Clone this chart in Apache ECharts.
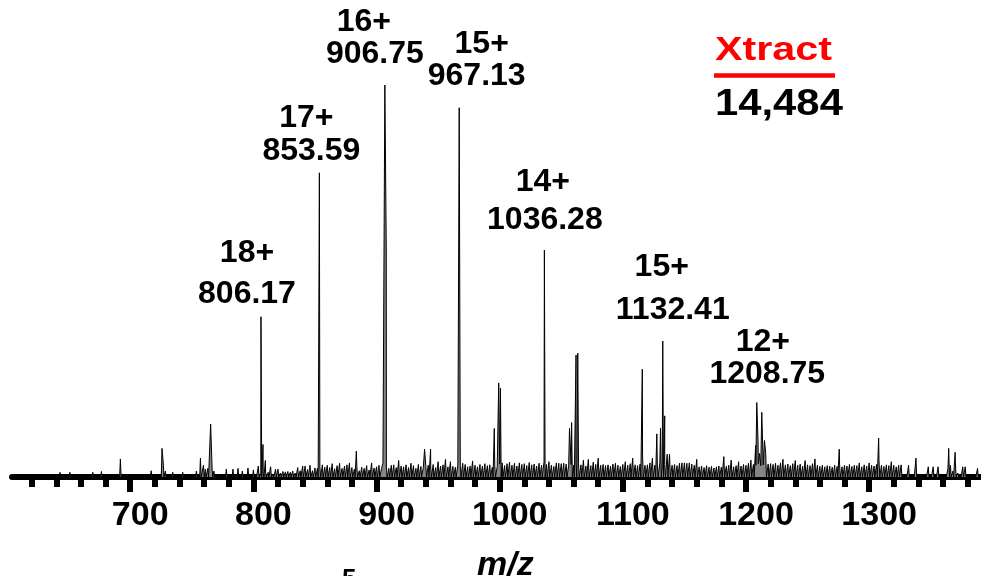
<!DOCTYPE html>
<html>
<head>
<meta charset="utf-8">
<script src="https://cdn.jsdelivr.net/npm/echarts@6/dist/echarts.min.js"></script>
<style>
  html, body { margin: 0; padding: 0; background: #fff; }
  #chart { width: 981px; height: 576px; }
</style>
</head>
<body>
<div id="chart"></div>
<script>
// Deconvoluted charge-state series: labelled m/z peaks (relative intensity, %)
const peakMz = [806.17, 853.59, 906.75, 967.13, 1036.28, 1132.41, 1208.75];
const peakIntensity = [40.9, 77.6, 100, 94.2, 57.9, 34.7, 19.0];
const peakCharge = ['18+', '17+', '16+', '15+', '14+', '15+', '12+'];

// Unlabelled peaks (isotopes, adducts, minor species)
const minorMz = [692.0, 725.8, 726.8, 757.0, 765.3, 807.8, 809.7, 883.6, 905.2, 907.9,
  939.0, 943.9, 995.6, 999.2, 1000.6, 1056.7, 1058.4, 1062.0, 1063.4, 1115.8,
  1127.6, 1130.6, 1134.0, 1137.9, 1207.8, 1209.8, 1211.0, 1212.8, 1215.0,
  1275.7, 1307.7, 1364.6, 1369.8];
const minorIntensity = [4.6, 7.3, 3.6, 4.8, 13.5, 8.3, 4.2, 6.6, 3.5, 58.2,
  7.1, 7.1, 12.4, 24.0, 22.7, 12.4, 13.9, 31.1, 31.6, 27.5,
  11.0, 12.5, 15.6, 5.8, 8.0, 9.0, 6.0, 16.5, 9.3,
  7.1, 9.9, 7.3, 6.3];

// Sparse low-mass baseline signal
const lowNoiseMz = [643, 651, 669.6, 676.6, 717, 728.5, 734.5, 742.6, 753.7, 759.5,
  761, 763, 766.5, 768, 778, 783.4, 787.5, 791, 795.6];
const lowNoiseIntensity = [1.2, 1.2, 1.2, 1.4, 1.6, 1.5, 1.2, 1.2, 1.5, 3.0,
  2.0, 2.2, 2.0, 1.5, 2.0, 2.0, 2.2, 1.5, 2.3];

// Baseline signal from m/z 800 upward, one reading every 2 m/z
const noiseStartMz = 800;
const noiseStepMz = 2;
const noiseIntensity = [
  1.8, 0.5, 2.8, 0.7, 1.0, 0.8, 1.2, 2.6, 0.6, 2.0,   // 800
  2.0, 1.0, 1.4, 1.3, 1.4, 1.2, 1.5, 1.0, 2.4, 1.6,   // 820
  2.8, 2.8, 1.9, 3.0, 1.6, 2.3, 2.2, 2.6, 3.1, 2.5,   // 840
  3.0, 2.4, 3.4, 2.1, 2.9, 3.5, 2.2, 2.8, 3.1, 3.6,   // 860
  2.4, 2.0, 2.7, 1.6, 2.5, 2.2, 2.9, 1.8, 3.6, 2.3,   // 880
  2.6, 3.0, 2.1, 3.3, 2.5, 2.2, 3.0, 3.1, 2.4, 4.2,   // 900
  2.8, 2.6, 3.1, 2.4, 3.5, 2.9, 2.2, 3.2, 2.7, 2.5,   // 920
  2.9, 3.0, 2.6, 3.2, 2.4, 3.9, 2.8, 3.1, 4.5, 2.6,   // 940
  3.9, 2.7, 2.5, 3.0, 2.9, 3.5, 3.2, 2.6, 2.8, 4.1,   // 960
  3.0, 2.6, 3.2, 2.8, 3.4, 2.9, 3.1, 2.5, 3.0, 2.7,   // 980
  3.3, 3.6, 2.9, 3.4, 3.8, 3.0, 3.5, 2.8, 3.6, 3.2,   // 1000
  3.4, 2.9, 3.7, 3.1, 3.3, 2.8, 3.5, 3.0, 3.9, 3.2,   // 1020
  3.9, 3.0, 2.7, 3.6, 3.5, 3.4, 3.5, 3.3, 2.9, 3.2,   // 1040
  3.0, 3.5, 3.4, 3.1, 4.3, 2.8, 4.5, 2.9, 3.8, 3.2,   // 1060
  4.8, 3.0, 3.2, 2.9, 3.1, 2.8, 3.3, 3.5, 3.0, 2.7,   // 1080
  3.2, 3.9, 3.0, 3.4, 4.8, 3.1, 2.9, 3.3, 5.6, 3.0,   // 1100
  3.1, 3.6, 4.8, 3.0, 3.3, 3.5, 2.8, 3.2, 5.8, 5.6,   // 1120
  3.0, 3.2, 2.9, 3.5, 3.6, 3.6, 3.5, 3.6, 3.3, 3.0,   // 1140
  4.5, 2.6, 2.8, 2.4, 2.9, 2.5, 2.7, 2.3, 2.6, 2.8,   // 1160
  2.5, 5.2, 2.7, 3.0, 4.3, 2.6, 2.9, 3.9, 2.8, 3.2,   // 1180
  3.0, 3.5, 4.3, 3.2, 3.0, 3.4, 2.9, 3.1, 6.0, 3.3,   // 1200
  3.4, 3.2, 3.5, 3.0, 3.6, 4.5, 3.1, 3.3, 2.9, 3.4,   // 1220
  4.2, 3.0, 3.3, 2.8, 4.2, 3.1, 2.9, 3.4, 4.6, 3.0,   // 1240
  2.7, 3.0, 2.6, 2.9, 2.8, 2.5, 3.0, 2.7, 3.1, 2.6,   // 1260
  3.0, 2.8, 3.2, 2.7, 3.0, 2.9, 3.6, 2.6, 3.1, 2.8,   // 1280
  3.6, 3.0, 2.8, 3.2, 4.2, 3.0, 2.7, 3.1, 2.9, 3.9,   // 1300
  3.0, 2.6, 3.0, 3.1, 0.4, 0.3, 3.0, 0.5, 0.3, 4.8,   // 1320
  0.0, 0.0, 0.0, 0.0, 2.6, 0.0, 2.6, 0.0, 2.6, 0.0,   // 1340
  0.5, 0.0, 2.2, 3.0, 1.5, 3.9, 1.0, 0.5, 2.6, 2.6,   // 1360
  0.0, 0.0, 0.0, 0.0, 2.2                             // 1380
];

const tickLabels = [700, 800, 900, 1000, 1100, 1200, 1300];

// ---- layout / style ----
const MZ_MIN = 604, MZ_MAX = 1390;
const minorTickValues = [];
for (let v = 620; v <= 1380; v += 20) minorTickValues.push(v);

// label offsets in px from each peak apex: [dx, dy] for charge line and m/z line
const chargeOffsets = [[-14, -64], [-13, -55], [-21, -62.5], [22.5, -64], [-1.5, -67.5], [-1, -73.5], [6, -60]];
const mzOffsets = [[-14, -23], [-8, -22], [-10, -31], [17.5, -32], [0.5, -30], [10, -31], [10.5, -28.5]];

const FONT = '"Liberation Sans", Arial, Helvetica, sans-serif';

// gather every stick into one profile trace
const sticks = [];
peakMz.forEach((m, i) => sticks.push([m, peakIntensity[i]]));
minorMz.forEach((m, i) => sticks.push([m, minorIntensity[i]]));
lowNoiseMz.forEach((m, i) => sticks.push([m, lowNoiseIntensity[i]]));
noiseIntensity.forEach((h, i) => sticks.push([noiseStartMz + i * noiseStepMz, h]));
sticks.sort((a, b) => a[0] - b[0]);

const profile = [[MZ_MIN, 0]];
const HALF = 0.6, JOIN = 1.3;
sticks.forEach((p, i) => {
  const prev = sticks[i - 1];
  if (!prev) {
    profile.push([p[0] - HALF, 0]);
  } else if (p[0] - prev[0] > JOIN) {
    profile.push([prev[0] + HALF, 0]);
    profile.push([p[0] - HALF, 0]);
  }
  profile.push(p);
});
profile.push([sticks[sticks.length - 1][0] + HALF, 0]);
profile.push([MZ_MAX, 0]);

const labelData = (offsets) => peakMz.map((m, i) => ({
  value: [m, peakIntensity[i]],
  label: { offset: offsets[i] }
}));

const chart = echarts.init(document.getElementById('chart'), null, { renderer: 'canvas' });

const labelStyle = {
  show: true,
  position: 'inside',
  color: '#000',
  opacity: 1,
  fontFamily: FONT,
  fontWeight: 'bold',
  fontSize: 32,
  align: 'center',
  verticalAlign: 'middle'
};

chart.setOption({
  animation: false,
  backgroundColor: '#fff',
  grid: { left: 12, right: 1, top: 85, bottom: 99, containLabel: false },
  xAxis: [
    {
      type: 'value', min: MZ_MIN, max: MZ_MAX, position: 'bottom',
      axisLine: { show: true, onZero: false, lineStyle: { color: '#000', width: 6 } },
      axisTick: { show: true, customValues: minorTickValues, length: 10, lineStyle: { color: '#000', width: 6 } },
      axisLabel: { show: false },
      splitLine: { show: false }
    },
    {
      type: 'value', min: MZ_MIN, max: MZ_MAX, position: 'bottom', offset: 0,
      axisLine: { show: false },
      axisTick: { show: true, customValues: tickLabels, length: 15, lineStyle: { color: '#000', width: 6 } },
      axisLabel: {
        show: true, customValues: tickLabels, margin: 22,
        formatter: (v) => String(v),
        color: '#000', fontFamily: FONT, fontWeight: 'bold', fontSize: 34,
        padding: [0, 0, 0, 20]
      },
      splitLine: { show: false }
    }
  ],
  yAxis: { type: 'value', min: 0, max: 100, show: false, splitLine: { show: false } },
  series: [
    {
      type: 'line',
      data: profile,
      xAxisIndex: 0,
      showSymbol: false,
      symbol: 'none',
      clip: false,
      lineStyle: { color: '#000', width: 1 },
      areaStyle: { color: '#858585', opacity: 1 },
      z: 2
    },
    {
      type: 'scatter', xAxisIndex: 0, symbolSize: 1,
      itemStyle: { color: 'rgba(0,0,0,0)', opacity: 1 },
      data: labelData(chargeOffsets),
      label: Object.assign({}, labelStyle, { formatter: (p) => peakCharge[p.dataIndex] }),
      silent: true, z: 3
    },
    {
      type: 'scatter', xAxisIndex: 0, symbolSize: 1,
      itemStyle: { color: 'rgba(0,0,0,0)', opacity: 1 },
      data: labelData(mzOffsets),
      label: Object.assign({}, labelStyle, { formatter: (p) => peakMz[p.dataIndex].toFixed(2) }),
      silent: true, z: 3
    }
  ],
  graphic: [
    {
      type: 'text', x: 715, y: 34.5, scaleX: 1.25,
      style: { text: 'Xtract', x: 0, y: 0, fill: '#ff0000', font: 'bold 33px ' + FONT, align: 'left', verticalAlign: 'top' }
    },
    {
      type: 'rect', shape: { x: 714, y: 73.3, width: 121, height: 4.4 },
      style: { fill: '#ff0000' }
    },
    {
      type: 'text', x: 715, y: 86, scaleX: 1.13,
      style: { text: '14,484', x: 0, y: 0, fill: '#000', font: 'bold 37px ' + FONT, align: 'left', verticalAlign: 'top' }
    },
    {
      type: 'text', x: 477, y: 549,
      style: { text: 'm/z', fill: '#000', font: 'italic bold 34px ' + FONT, align: 'left', verticalAlign: 'top' }
    },
    {
      type: 'text', x: 342, y: 567,
      style: { text: '5', fill: '#000', font: 'bold 26px ' + FONT, align: 'left', verticalAlign: 'top' }
    }
  ]
});
</script>
</body>
</html>
